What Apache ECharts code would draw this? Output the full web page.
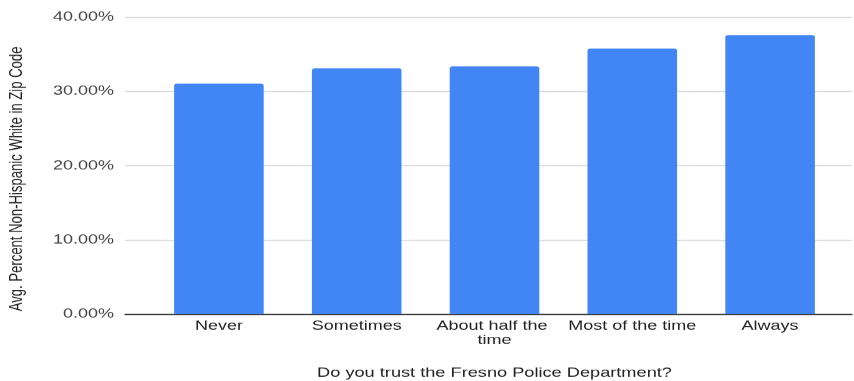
<!DOCTYPE html>
<html>
<head>
<meta charset="utf-8">
<script src="https://cdn.jsdelivr.net/npm/echarts@6/dist/echarts.min.js"></script>
<style>
  html, body { margin: 0; padding: 0; background: #fff; overflow: hidden; width: 854px; height: 381px; }
  /* chart is laid out on a taller canvas and compressed vertically to 381px */
  #chart { width: 854px; height: 535px; transform: scaleY(0.71215); transform-origin: 0 0; }
</style>
</head>
<body>
<div id="chart"></div>
<script>
// Trust in the Fresno Police Department vs. average share of non-Hispanic white residents
const categories = ['Never', 'Sometimes', 'About half the time', 'Most of the time', 'Always'];
const avgPercentWhite = [31.05, 33.12, 33.39, 35.77, 37.61];
const yTicks = { min: 0, max: 40, interval: 10 };

const chart = echarts.init(document.getElementById('chart'), null, { renderer: 'canvas' });
const font = 'Liberation Sans, Arial, sans-serif';
const plotTop = 24.3, plotBottom = 94;

chart.setOption({
  animation: false,
  grid: [
    // frame: gridlines, baseline and value labels span the full width
    { left: 125, right: 2, top: plotTop, bottom: plotBottom, outerBoundsMode: 'none' },
    // bars and category labels sit inside a narrower band
    { left: 150, right: 15, top: plotTop, bottom: plotBottom, outerBoundsMode: 'none' }
  ],
  xAxis: [
    {
      gridIndex: 0, type: 'value', min: 0, max: 1,
      axisLine: { show: true, lineStyle: { color: '#333', width: 1.4 } },
      axisTick: { show: false }, axisLabel: { show: false }, splitLine: { show: false },
      name: 'Do you trust the Fresno Police Department?',
      nameLocation: 'middle',
      nameGap: 74,
      nameTextStyle: { fontFamily: font, fontSize: 18.2, color: '#222', padding: [0, 0, 0, 12] }
    },
    {
      gridIndex: 1, type: 'category', data: categories,
      axisLine: { show: false }, axisTick: { show: false }, splitLine: { show: false },
      axisLabel: {
        fontFamily: font, fontSize: 18, color: '#222', margin: 7,
        width: 138, overflow: 'break', lineHeight: 20, interval: 0
      }
    }
  ],
  yAxis: [
    {
      gridIndex: 0, type: 'value',
      min: yTicks.min, max: yTicks.max, interval: yTicks.interval,
      name: 'Avg. Percent Non-Hispanic White in Zip Code',
      nameLocation: 'middle',
      nameGap: 99,
      nameTextStyle: { fontFamily: font, fontSize: 18.4, color: '#222', padding: [0, 37, 0, 0] },
      axisLine: { show: false }, axisTick: { show: false },
      axisLabel: {
        fontFamily: font, fontSize: 18, color: '#444', margin: 11,
        formatter: v => v.toFixed(2) + '%'
      },
      splitLine: { lineStyle: { color: '#dadada', width: 1.4 } }
    },
    {
      gridIndex: 1, type: 'value',
      min: yTicks.min, max: yTicks.max, interval: yTicks.interval,
      show: false
    }
  ],
  series: [{
    type: 'bar',
    xAxisIndex: 1, yAxisIndex: 1,
    data: avgPercentWhite,
    barCategoryGap: '35%',
    itemStyle: { color: '#4285f4', borderRadius: [3, 3, 0, 0] }
  }]
});
</script>
</body>
</html>
